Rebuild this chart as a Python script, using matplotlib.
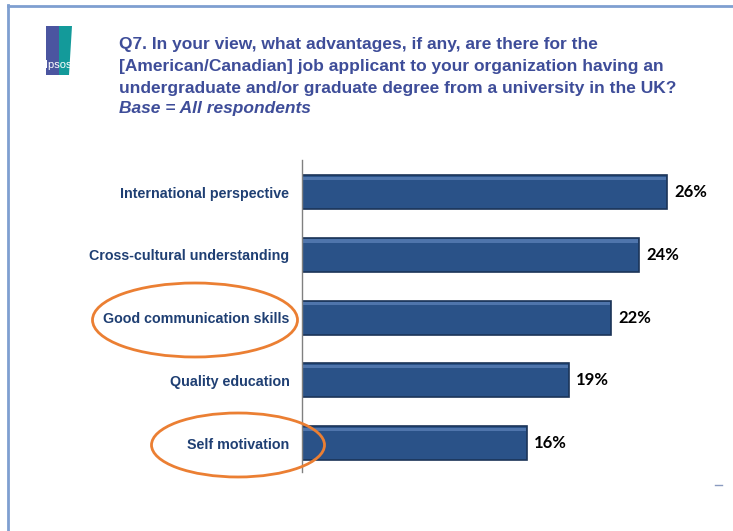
import matplotlib.pyplot as plt
from matplotlib.patches import Ellipse, Rectangle, Polygon

categories = ["International perspective", "Cross-cultural understanding",
              "Good communication skills", "Quality education", "Self motivation"]
values = [26, 24, 22, 19, 16]
value_labels = ["26%", "24%", "22%", "19%", "16%"]

title_lines = ["Q7. In your view, what advantages, if any, are there for the",
               "[American/Canadian] job applicant to your organization having an",
               "undergraduate and/or graduate degree from a university in the UK?"]
base_line = "Base = All respondents"

W, H = 733, 531


def main():
    fig = plt.figure(figsize=(W / 100, H / 100), dpi=100)

    # overlay in pixel coordinates for frame, logo, title
    bg = fig.add_axes([0, 0, 1, 1])
    bg.set_xlim(0, W)
    bg.set_ylim(H, 0)
    bg.axis("off")

    # slide frame
    bg.plot([8, W], [5.5, 5.5], color="#7F9FD0", lw=2)
    bg.plot([8, 8], [5, H], color="#7F9FD0", lw=2)
    bg.plot([715, 722], [485, 485], color="#8A9BC0", lw=1)

    # logo
    bg.add_patch(Rectangle((46, 26), 13, 49, color="#4B55A0", lw=0))
    bg.add_patch(Polygon([(59, 26), (72, 26), (69, 75), (59, 75)],
                         closed=True, color="#139A9A", lw=0))
    bg.text(58.5, 65, "Ipsos", color="white", fontsize=8, ha="center", va="center",
            family=["Liberation Sans", "DejaVu Sans"])

    # title
    tcol = "#3E4D99"
    fam = ["Liberation Sans", "DejaVu Sans"]
    for i, line in enumerate(title_lines):
        bg.text(119, 44 + i * 22, line, color=tcol, fontsize=12.5, fontweight="bold",
                va="center", ha="left", family=fam)
    bg.text(119, 108, base_line, color=tcol, fontsize=12.5, fontweight="bold",
            style="italic", va="center", ha="left", family=fam)

    # bar chart
    ax = fig.add_axes([302 / W, 1 - 472 / H, (W - 302) / W, 312 / H])
    y = list(range(len(categories)))
    ax.barh(y, values, height=0.54, color="#2A5288", edgecolor="#1B3458", lw=1.2)
    # light top highlight on each bar
    ax.barh([v - 0.22 for v in y], [v - 0.15 for v in values], height=0.05,
            left=0.08, color="#4F75AC", lw=0)
    for yi, v, lab in zip(y, values, value_labels):
        ax.text(v + 0.5, yi, lab, va="center", ha="left", fontsize=12,
                fontweight="bold", color="black", family=["Lato", "DejaVu Sans"])

    ax.set_xlim(0, (W - 302) / 14.04)
    ax.set_ylim(4.46, -0.51)
    ax.set_yticks(y)
    ax.set_yticklabels(categories, fontsize=10.3, fontweight="bold", color="#1F3F73",
                       family=["Liberation Sans", "DejaVu Sans"])
    ax.tick_params(axis="y", length=0, pad=9)
    ax.set_xticks([])
    for s in ["top", "right", "bottom"]:
        ax.spines[s].set_visible(False)
    ax.spines["left"].set_color("#808080")
    ax.spines["left"].set_linewidth(1)
    ax.patch.set_alpha(0)

    # orange circles around highlighted answers
    ov = fig.add_axes([0, 0, 1, 1])
    ov.set_xlim(0, W)
    ov.set_ylim(H, 0)
    ov.axis("off")
    ov.add_patch(Ellipse((195, 320), 205, 74, fill=False, ec="#EB7F33", lw=2))
    ov.add_patch(Ellipse((238, 445), 173, 64, fill=False, ec="#EB7F33", lw=2))

    plt.savefig("out.png", dpi=100)


if __name__ == "__main__":
    main()
